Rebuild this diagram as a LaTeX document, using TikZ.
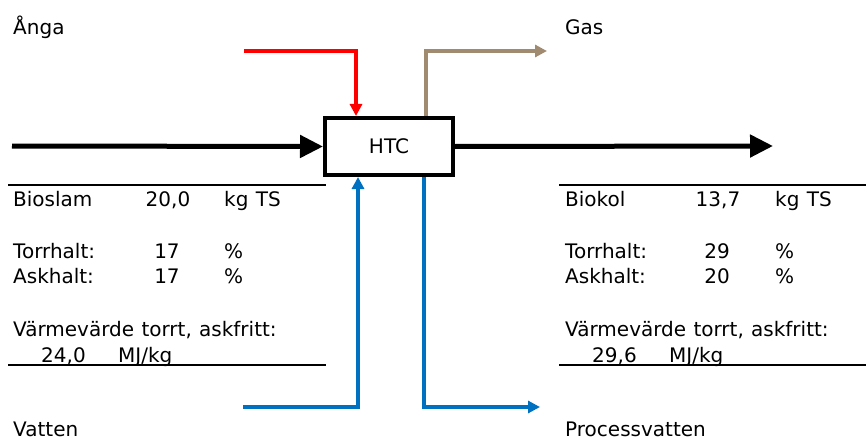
\documentclass[tikz,border=0pt]{standalone}
\usepackage{fontspec}
\setmainfont{DejaVu Sans}[WordSpace=1.15]
\usepackage{xcolor}
\definecolor{steamred}{HTML}{FF0000}
\definecolor{gasbrown}{HTML}{A08A70}
\definecolor{waterblue}{HTML}{0070C0}
\usepackage{tikz}
\usetikzlibrary{
  arrows.meta,
  positioning,
  calc
}

\begin{document}
\begin{tikzpicture}[
  x=1pt, y=-1pt,
  reactor/.style={rectangle, draw=black, line width=4pt, minimum width=128pt, minimum height=57pt, font=\fontsize{20}{24}\selectfont, inner sep=0pt},
  datatext/.style={anchor=base west, inner sep=0pt, font=\fontsize{20}{24}\selectfont},
  numtext/.style={anchor=base, inner sep=0pt, font=\fontsize{20}{24}\selectfont},
  mainarr/.style={-{Triangle[length=23pt, width=22pt]}, line width=5pt},
  flowarr/.style={-{Triangle[length=12pt, width=12pt]}, line width=4pt},
  rule/.style={line width=2pt},
]
\useasboundingbox (0,0) rectangle (866,441);

\node[reactor] (htc) at (389,146.5) {HTC};

% Flodes ut och in
\coordinate (feedin) at (12,146);
\coordinate (charout) at (773,146);
\coordinate (steamin) at (244,51);
\coordinate (gasout) at (547,51);
\coordinate (waterin) at (243,407);
\coordinate (pwout) at (540,407);

\draw[mainarr] (feedin) -- (htc.west);
\draw[mainarr] (htc.east) -- (charout);
\draw[flowarr, steamred] (steamin) -| ([xshift=-33pt]htc.north);
\draw[flowarr, gasbrown] ([xshift=37pt]htc.north) |- (gasout);
\draw[flowarr, waterblue] (waterin) -| ([xshift=-31pt]htc.south);
\draw[flowarr, waterblue] ([xshift=35pt]htc.south) |- (pwout);

% Etiketter
\node[datatext] (lsteam) at (13,35) {Ånga};
\node[datatext] (lgas) at (565,35) {Gas};
\node[datatext] (lwater) at (13,436) {Vatten};
\node[datatext] (lpw) at (565,436) {Processvatten};

% Bioslam
\coordinate (intop) at (8,185);
\coordinate (intopr) at (326,185);
\coordinate (inbot) at (8,365);
\coordinate (inbotr) at (326,365);
\draw[rule] (intop) -- (intopr);
\draw[rule] (inbot) -- (inbotr);
\node[datatext] (sname) at (13,206) {Bioslam};
\node[numtext] (smass) at (168,206) {20,0};
\node[datatext] (sunit) at (224,206) {kg TS};
\node[datatext] (sdm) at (13,258) {Torrhalt:};
\node[numtext] (sdmv) at (167,258) {17};
\node[datatext] (sdmu) at (224,258) {\%};
\node[datatext] (sash) at (13,283) {Askhalt:};
\node[numtext] (sashv) at (167,283) {17};
\node[datatext] (sashu) at (224,283) {\%};
\node[datatext] (shv) at (13,336) {Värmevärde torrt, askfritt:};
\node[datatext] (shvv) at (41,362) {24,0};
\node[datatext] (shvu) at (118,362) {MJ/kg};

% Biokol
\coordinate (outtop) at (559,185);
\coordinate (outtopr) at (866,185);
\coordinate (outbot) at (559,365);
\coordinate (outbotr) at (866,365);
\draw[rule] (outtop) -- (outtopr);
\draw[rule] (outbot) -- (outbotr);
\node[datatext] (cname) at (565,206) {Biokol};
\node[numtext] (cmass) at (718,206) {13,7};
\node[datatext] (cunit) at (775,206) {kg TS};
\node[datatext] (cdm) at (565,258) {Torrhalt:};
\node[numtext] (cdmv) at (717,258) {29};
\node[datatext] (cdmu) at (775,258) {\%};
\node[datatext] (cash) at (565,283) {Askhalt:};
\node[numtext] (cashv) at (717,283) {20};
\node[datatext] (cashu) at (775,283) {\%};
\node[datatext] (chv) at (565,336) {Värmevärde torrt, askfritt:};
\node[datatext] (chvv) at (592,362) {29,6};
\node[datatext] (chvu) at (669,362) {MJ/kg};

\end{tikzpicture}
\end{document}
